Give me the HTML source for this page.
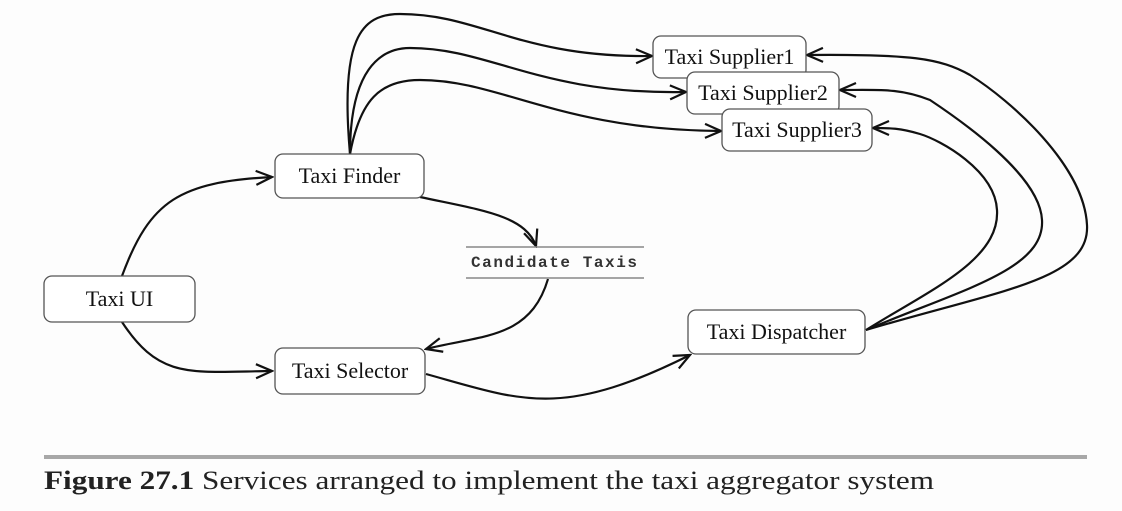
<!DOCTYPE html>
<html><head><meta charset="utf-8"><style>
html,body{margin:0;padding:0;background:#fdfdfd;}
body{width:1122px;height:506px;overflow:hidden;position:relative;}
</style></head><body>
<svg width="1122" height="506" viewBox="0 0 1122 506" xmlns="http://www.w3.org/2000/svg">
<defs>
<marker id="a" viewBox="0 0 20 20" refX="18" refY="10" markerWidth="20" markerHeight="20" markerUnits="userSpaceOnUse" orient="auto">
<path d="M2,3 L18,10 L2,17" fill="none" stroke="#111" stroke-width="2.2"/>
</marker>
</defs>
<g fill="none" stroke="#111" stroke-width="2.2" marker-end="url(#a)">
<path d="M122,276 C150,200 180,182 272,177"/>
<path d="M122,322 C160,380 190,372 272,371"/>
<path d="M420,197 C480,210 525,215 536,246"/>
<path d="M548,279 C530,340 480,335 426,349"/>
<path d="M426,374 C520,400 560,420 690,355"/>
<path d="M350,154 C340,40 360,14 400,14 C480,14 520,58 652,56"/>
<path d="M350,154 C350,70 380,48 410,48 C490,48 540,95 686,92"/>
<path d="M350,154 C360,100 380,80 420,80 C500,80 560,130 721,131"/>
<path d="M866,330 C1000,290 1090,280 1087,225 C1084,165 1010,100 970,75 C940,58 910,54 807,55"/>
<path d="M866,330 C960,290 1045,270 1042,220 C1040,175 960,120 930,100 C900,88 880,90 840,90"/>
<path d="M866,330 C930,290 1000,260 997,210 C995,170 940,140 920,134 C900,128 890,128 873,128"/>
</g>
<g stroke="#555" stroke-width="1.3" fill="#fff">
<rect x="44" y="276" width="151" height="46" rx="8"/>
<rect x="275" y="154" width="149" height="44" rx="8"/>
<rect x="275" y="348" width="150" height="46" rx="8"/>
<rect x="688" y="310" width="177" height="44" rx="8"/>
<rect x="653" y="36" width="153" height="42" rx="8"/>
<rect x="687" y="72" width="152" height="42" rx="8"/>
<rect x="722" y="109" width="150" height="42" rx="8"/>
</g>
<g stroke="#888" stroke-width="1.6">
<line x1="466" y1="247" x2="644" y2="247"/>
<line x1="466" y1="278" x2="644" y2="278"/>
</g>
<g font-family="'Liberation Serif',serif" font-size="22" fill="#111" text-anchor="middle">
<text x="119.5" y="306">Taxi UI</text>
<text x="349.5" y="183">Taxi Finder</text>
<text x="350" y="378">Taxi Selector</text>
<text x="776.5" y="339">Taxi Dispatcher</text>
<text x="729.5" y="64">Taxi Supplier1</text>
<text x="763" y="100">Taxi Supplier2</text>
<text x="797" y="137">Taxi Supplier3</text>
</g>
<text x="471" y="267" font-family="'Liberation Mono',monospace" font-size="16" font-weight="bold" fill="#333" textLength="166" lengthAdjust="spacing">Candidate Taxis</text>
<rect x="44" y="455" width="1043" height="4" fill="#a8a8a8"/>
<text x="44" y="489" font-family="'Liberation Serif',serif" font-size="26" fill="#222" textLength="890" lengthAdjust="spacingAndGlyphs"><tspan font-weight="bold">Figure 27.1</tspan> Services arranged to implement the taxi aggregator system</text>
</svg>
</body></html>
